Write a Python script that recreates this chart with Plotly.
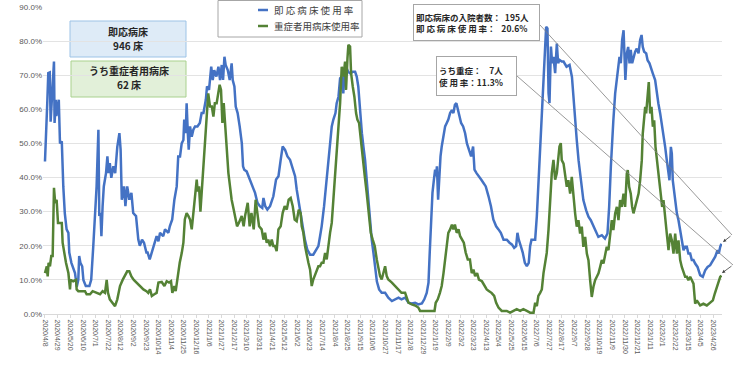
import pandas as pd
import plotly.graph_objects as go

BASE_DATE = "2020-04-08"

# 即応病床使用率 (%) : day offset from 2020/4/8, value
blue_days = [0, 1.5, 4, 5.5, 8, 9.4, 11.5, 14, 15, 16, 18, 19, 23, 25, 28, 30.5, 33, 36, 39, 40.5, 44, 50, 53, 55.5, 57, 59, 62, 64, 68, 74, 77, 80.5, 84, 86, 89, 90.5, 92.5, 94, 96, 98, 101.7, 104, 106, 108, 110.5, 114, 117, 120.5, 124, 126, 128, 131.7, 134, 137, 140.5, 144, 147, 151.7, 155.5, 158, 161.7, 165, 169,
             171, 174.5, 178, 180.6, 186, 189, 191.7, 197, 200, 205.6, 208, 212, 215.6, 219.5, 222, 225, 227.8, 230.6, 232, 234.5, 236, 238, 239.5, 241.7, 244.5, 247.2, 250, 254, 258, 261, 264, 268, 270, 273.3, 277, 279.5, 282, 285.6, 289, 291.7, 294.5, 296.7, 299, 301, 304.5, 307.8, 311, 312.8, 315.6, 317.8, 321, 324.4, 328, 330, 332, 336, 339, 343.3, 347, 350, 354, 358, 362,
             364, 367, 370.5, 375, 380.5, 385, 389, 392.7, 396, 400, 404, 408.3, 412.8, 416.7, 419.4, 422.2, 425, 429.4, 433, 437, 441.7, 447, 451.7, 455.5, 458.3, 461, 465, 468.3, 472, 475, 477.8, 480.5, 484, 486, 489, 491.7, 494.4, 497, 499.4, 501.6, 505, 508.3, 512.8, 516.7, 519.4, 522, 525, 528, 530.5, 533.3, 536, 539, 541.7, 544.4, 547.2,
             550, 553, 556.7, 561, 566.7, 572, 578, 583, 589, 594, 600, 605.6, 611, 616.7, 622, 628, 632, 636, 639, 641, 643, 645.6, 648, 650, 651.7, 653, 655, 656.7, 659, 661, 664, 666.7, 669.4, 672, 675, 678, 680.5, 683, 685.5, 687.8, 690, 693.3, 696.7, 700, 703, 706.7, 710, 713.3, 715.6, 719, 722, 726.7, 730.6, 734.4, 739,
             743, 747, 751.7, 755.6, 759.5, 764, 769.4, 774, 777.8, 781.7, 785, 787.2, 789.4, 792.8, 796, 799.5, 802.8, 806, 808.3, 810.6, 814, 816.7, 819.5, 822, 825, 827.8, 830.6, 833.3, 835, 837.2, 839, 840.6, 843, 845, 847.2, 850, 852.8, 855, 857.2,
             861, 864, 869, 874, 878, 880.5, 883, 886, 889, 891.6, 894.4, 897, 901.7, 905.5, 909.4, 914, 918.3, 922, 927.8, 933, 937.2, 940, 942.8, 945, 947, 950, 952.8, 955.5, 957.2, 959.4, 961.6, 964, 965.5, 967, 969.4, 971.7, 973.9, 976, 978.3, 980.5, 983.3, 986, 988.9, 991.6, 994, 996, 998.3, 1001.7, 1004, 1007.2, 1009.4, 1012.8, 1016.6, 1019.4, 1022, 1025, 1027.8, 1030.5, 1033.3, 1036, 1038.9, 1040.5, 1042.8, 1044.4, 1046, 1048.3, 1050.5, 1052.8, 1055.5, 1058.3, 1061, 1063.9, 1066.6, 1069.4, 1072, 1075, 1077.7, 1080.5, 1083.3, 1087.2, 1091.6, 1096, 1100, 1104, 1108.3, 1112.8, 1116.7, 1120.5, 1122.7, 1125, 1127]
blue_vals = [44.7, 50, 62.8, 70.6, 70.8, 56.4, 63.7, 74, 74, 56, 62.8, 58, 62.8, 50, 50.6, 37.4, 29.6, 24.8, 23.8, 18, 15, 12, 8, 10, 17, 15, 14, 10, 8.2, 8.2, 10, 20, 29.6, 37.4, 54, 28.7, 29.6, 22.8, 31.6, 37.4, 41.3, 46.2, 41.3, 44.2, 39.9, 43.3, 41.3, 49, 53, 48.2, 33.5, 37.4, 31.6, 37.4, 33.5, 35.5, 29.6, 28.7, 21.8, 20, 21.8, 20.9, 18,
             18, 16, 18, 20, 22.8, 21.3, 23.8, 22.8, 24.8, 23.8, 25.7, 27.7, 33.5, 37.4, 46.2, 46.2, 50, 51, 57, 53, 61.8, 53, 48.2, 55, 52, 54, 55, 55, 56, 58.9, 58.9, 62.8, 66.7, 65.7, 72.5, 68.6, 71.5, 69.6, 72.5, 68.6, 73, 68.6, 75.4, 73, 71.5, 68.6, 73.5, 68.6, 66.7, 60.8, 58.9, 55, 50, 43.3, 42.3, 41.8, 40.4, 38.4, 36.5, 35.5, 32.6, 31.6, 31.1,
             34, 31.6, 30.6, 31.6, 34.5, 39.4, 40.4, 45.2, 49.1, 48.1, 46.2, 45.2, 42.3, 40.4, 36.5, 33.5, 30.6, 25.7, 21.8, 18.9, 17.4, 17.4, 18.9, 19.9, 22.8, 25.7, 31.6, 37.4, 45.2, 50, 55, 57, 58.9, 61.8, 63.7, 69.1, 69.6, 64.7, 71.5, 72.5, 71, 70.6, 71, 71, 69.6, 66.7, 58.9, 53, 49.1, 45.2, 39.4, 32.6, 27.7, 21.8, 18,
             13, 9.5, 7.2, 6.2, 6.2, 4.8, 3.8, 4.3, 4.8, 4.3, 4.8, 3.3, 3.1, 3.3, 2.8, 3.1, 4.3, 6.2, 9.2, 17.9, 27.7, 35.5, 39.4, 42.3, 40.4, 43.3, 33.5, 41.3, 46.2, 49.1, 52, 55, 56, 57, 58.9, 59.8, 58.9, 61.3, 61.8, 59.8, 58.9, 56, 55, 53, 50, 48.1, 46.2, 49.1, 42.3, 41.3, 40.4, 39.4, 38.4, 37.4, 34.5,
             31.6, 27.7, 25.7, 24.8, 23.8, 21.8, 21.8, 20.9, 20.4, 19.4, 19.9, 23.8, 21.8, 19.9, 18, 15, 14, 15, 19.9, 21.8, 21.8, 21.8, 28.7, 37.4, 46.2, 56.9, 69.6, 77.4, 84.2, 83.7, 64.7, 61.8, 78.4, 73.5, 75.4, 70.6, 79.3, 73.5, 74.5,
             74, 74, 72.5, 73, 69.5, 62.7, 56.8, 51, 45.1, 41.2, 37.3, 33.4, 30.4, 28.5, 27.5, 25.6, 23.6, 22.6, 23.1, 22.1, 23.6, 31.4, 43.1, 52, 56.8, 64.7, 68.6, 72.5, 75.4, 73.5, 80.3, 83.2, 77.4, 68.6, 76.4, 78.3, 73.5, 77.4, 73.5, 75.4, 76.9, 77.8, 76.4, 80.3, 81.8, 78.3, 76.9, 76.4, 74.4, 73.5, 72.5, 70.5, 68.6, 64.7, 61.7, 58.8, 55.9, 52.9, 49, 45.1, 41.2, 39.2, 49, 47, 39.2, 35.3, 31.4, 29.5, 27.5, 24.6, 21.6, 18.7, 19.7, 19.7, 17.7, 17.7, 15.8, 15.8, 14.8, 13.8, 11.4, 10.9, 12.8, 13.8, 14.3, 15.8, 16.8, 18.7, 17.7, 19.7, 20.6]

# 重症者用病床使用率 (%)
green_days = [0, 3, 4.5, 6, 8.3, 10.5, 12.8, 14, 15, 17, 19.4, 21.7, 28, 29.4, 31.7, 35, 39, 41.7, 42.8, 47, 51.7, 52.8, 55.5, 66.7, 69.4, 75, 79.4, 86, 91.7, 96, 100, 102.8, 105, 108, 112.8, 116.7, 120.5, 125, 129.4, 133, 137, 140.5, 144, 148, 152.8, 158, 164, 169,
              172, 175, 178, 182.2, 186, 189, 194.5, 199, 202.8, 206.7, 210, 212.2, 215.6, 217.8, 221, 224.5, 228, 230.6, 233, 236, 239, 241.7, 244.5, 247.2, 250, 252.8, 254.4, 256.7, 259, 261.1, 264, 267, 269.4, 272, 275, 278, 280.6, 283, 286, 289, 291, 293.3, 295.6, 297.8, 300, 302.8, 305.6, 308.3, 311, 314.4, 317, 320, 323, 327.8, 331, 333.3, 337.8, 341, 344, 347.8, 351, 354.4, 356.7,
              361, 364, 366.7, 369.4, 372, 375, 377.8, 380.5, 383.3, 386, 388.9, 392.7, 396, 399.4, 402.8, 406, 409.4, 412.8, 416, 419.4, 422.8, 426, 427.8, 430.5, 433.3, 436, 438.9, 441.7, 444.4, 447, 450, 452.8, 455.5, 458.3, 461, 463.9, 466.7, 469.4, 472, 475, 477.8, 480.5, 483.3, 486, 489, 491.7, 494.4, 497.2, 500, 501.6, 504, 505.5, 508.3, 510, 512.8, 515.5, 518.3, 520.5, 523.3, 526, 529.4, 532.8, 536, 539.4, 542.8, 546, 549.4,
              552.8, 555.5, 558.3, 561, 566.7, 569.4, 572, 578, 583, 589, 594, 600, 602.8, 605.6, 611, 616.7, 622, 625, 644, 649, 651, 654.4, 658, 661, 664, 666.7, 669.4, 672, 675, 678, 680.5, 683, 686, 689, 691.7, 694.4, 697.8, 701, 704.4, 708, 711, 713.9, 716.7, 720, 723, 728, 732.2, 736, 740,
              744, 748.4, 751.7, 755.6, 761, 769.4, 775, 780.6, 786, 791.7, 797, 802.8, 808.3, 814, 816.7, 819.5, 822, 825, 827.8, 830.6, 833.3, 836, 839, 841.7, 844.4, 847.2, 850, 852.8, 855, 857.2, 859.4,
              861, 864, 866.6, 869.4, 872, 875, 877.7, 880.5, 883.3, 886, 888.8, 891.6, 894.4, 897, 900, 902.8, 905.5, 908.3, 911, 913.8, 916.6, 919.4, 922.2, 925, 927.7, 930.5, 933.3, 936, 938.8, 941.6, 944.4, 947, 950, 952.8, 955.5, 958.3, 961, 963.9, 966.6, 969.4, 971, 973.3, 976, 978.3, 980.5, 983.3, 986, 989, 991.6, 994.4, 996, 998.3, 1000, 1001.6, 1004, 1006, 1008.3, 1010.5, 1012.8, 1015, 1017.2, 1019.4, 1021.6, 1023.9, 1026, 1028.3, 1030.5, 1033.3, 1036, 1038.9, 1041.6, 1044.4, 1047.2, 1050, 1052.8, 1055.5, 1058.3, 1061, 1063.9, 1066.6, 1069.4, 1072, 1075, 1077.7, 1080.5, 1083.3, 1086, 1091.6, 1097, 1102.7, 1108.3, 1112.8, 1116, 1119.4, 1122.7, 1125, 1127]
green_vals = [12, 14, 11, 15, 14, 17, 17, 33.5, 37, 32.5, 33.5, 26.7, 26.7, 20.9, 18, 15, 12, 7.2, 10, 9.6, 10, 7.2, 6.7, 6.7, 5.8, 5.8, 6.7, 6.2, 5.8, 6.7, 6.2, 10, 6.2, 4.3, 3.3, 2.3, 4.3, 8.2, 10, 11, 12.5, 12.5, 11, 10, 9.2, 8.2, 7.2, 6.7,
              6.2, 7.2, 5.3, 5.8, 6.2, 9.2, 9.4, 8.2, 9.6, 9.2, 9.6, 6.2, 8.2, 6.7, 11, 15, 18, 20.9, 27.7, 29.6, 28.7, 27.7, 24.8, 29.6, 35.5, 39.4, 35.9, 37.4, 30, 35.5, 43.3, 51, 55, 64.7, 60.8, 60.8, 57.9, 61.8, 61.8, 65.7, 67.2, 65.7, 56, 61.8, 55, 47.2, 41.3, 37.4, 33.5, 30.6, 27.7, 25.7, 26.7, 28.7, 25.7, 28.7, 32.6, 25.7, 29.6, 24.8, 33.5, 29.6, 25.7,
              24.8, 21.8, 23.8, 20.9, 21.8, 19.9, 21.8, 19.9, 19.9, 18.4, 24.8, 25.7, 29.6, 31.6, 30.6, 33.5, 34, 31.6, 27.7, 27.2, 30.6, 29.6, 25.7, 23.8, 19.9, 17, 15, 13, 8.2, 10.1, 11.6, 13, 14, 14, 15, 15, 17.9, 16, 19.9, 23.8, 26.7, 33.5, 40.4, 49.1, 57, 61.8, 72.5, 69.6, 74, 65.7, 75, 78.9, 78.4, 70.6, 66.7, 63.7, 58.9, 57, 56, 51, 45.2, 40.4, 35.5, 28.7, 23.8, 21.8, 19.9,
              16, 14, 11.1, 10.1, 14, 11.1, 10.1, 9.2, 8.2, 7.2, 6.2, 6.2, 4.8, 3.3, 2.8, 2.5, 1.9, 0.9, 0.9, 0.9, 3.3, 4.3, 6.2, 8.2, 12, 16, 20.9, 23.8, 24.8, 26.2, 24.8, 26.2, 23.8, 24.8, 22.8, 21.8, 20.9, 18, 16, 16, 12, 13, 11.1, 12, 10.1, 9.6, 8.2, 7.2, 6.7,
              6.2, 5.3, 3.3, 1.9, 0.9, 0.9, 0.4, 0.9, 1.4, 0.9, 1.4, 0.9, 0.4, 0.4, 3.3, 2.3, 5.3, 6.2, 7.2, 12, 15, 17.9, 24.8, 33.5, 41.3, 45.2, 39.4, 41.3, 45.2, 49.1, 50.1,
              45.1, 44.1, 41.2, 37.3, 39.2, 35.3, 40.2, 33.4, 29.5, 25.6, 27.5, 23.6, 25.6, 19.7, 22.6, 17.7, 15.8, 9.9, 5, 8, 9.9, 10.9, 11.9, 13.8, 15.8, 14.8, 17.7, 19.7, 18.7, 22.6, 27.5, 24.6, 29.5, 31.4, 27.5, 33.4, 31.4, 35.3, 31.4, 41.2, 42.2, 37.3, 35.3, 31.4, 29.5, 31.4, 33.4, 35.3, 39.2, 45.1, 52.9, 56.8, 60.7, 58.8, 63.7, 68, 58.8, 60.7, 54.9, 56.8, 49, 45.1, 41.2, 37.3, 33.4, 31.4, 33.4, 27.5, 23.6, 18.7, 23.6, 21.6, 17.7, 23.6, 17.7, 21.6, 15.8, 13.8, 11.9, 10.9, 10.9, 9.9, 10.9, 9.9, 8.9, 3, 4, 2.5, 3, 2.5, 3.5, 4, 6, 8, 9.9, 10.9, 11.3]

series_names = ["即 応 病 床 使 用 率", "重症者用病床使用率"]
series_colors = ["#4472C4", "#548235"]

bed_box_lines = ["即応病床", "946 床"]
severe_box_lines = ["うち重症者用病床", "62 床"]
callout_main = ["即応病床の入院者数：  195人", "即 応 病 床 使 用 率：   20.6%"]
callout_severe = ["うち重症：    7人", "使 用 率：11.3%"]

base = pd.Timestamp(BASE_DATE)
def to_dates(days):
    return base + pd.to_timedelta(days, unit="D")

tick_dates = pd.date_range(BASE_DATE, "2023-04-26", freq="21D")
tick_labels = [f"{d.year}/{d.month}/{d.day}" for d in tick_dates]

FONT = "Noto Sans CJK JP, Noto Sans, sans-serif"

fig = go.Figure()
fig.add_trace(go.Scatter(x=to_dates(blue_days), y=blue_vals, mode="lines", name=series_names[0],
                         line=dict(color=series_colors[0], width=2.5), showlegend=False))
fig.add_trace(go.Scatter(x=to_dates(green_days), y=green_vals, mode="lines", name=series_names[1],
                         line=dict(color=series_colors[1], width=2.5), showlegend=False))

# plot area in pixels: x 43..722, y 7..314
L, R, T, B = 43, 722, 7, 314
W, H = R - L, B - T
def px(x):
    return (x - L) / W
def py(y):
    return (B - y) / H

fig.update_layout(
    width=740, height=366,
    margin=dict(l=L, r=740 - R, t=T, b=366 - B, autoexpand=False),
    paper_bgcolor="white", plot_bgcolor="white",
    font=dict(family=FONT, color="#404040"),
    showlegend=False,
    xaxis=dict(
        type="date",
        range=[to_dates([-3.3])[0], to_dates([1128])[0]],
        tickmode="array", tickvals=tick_dates, ticktext=tick_labels,
        tickangle=90, tickfont=dict(size=7, color="#595959", family="Liberation Sans, sans-serif"),
        showgrid=False, showline=True, linecolor="#D9D9D9", linewidth=1,
        ticks="outside", ticklen=3, tickcolor="#D9D9D9", zeroline=False, automargin=False,
    ),
    yaxis=dict(
        range=[0, 90], dtick=10, tickformat=".1f", ticksuffix="%",
        tickfont=dict(size=8, color="#595959", family="Liberation Sans, sans-serif"),
        showgrid=True, gridcolor="#E3E3E3", gridwidth=1, zeroline=False,
        ticks="", showline=False, automargin=False,
    ),
)

shapes = []
# info boxes
shapes.append(dict(type="rect", xref="paper", yref="paper", x0=px(70), x1=px(186), y0=py(57), y1=py(21),
                   fillcolor="#DEEBF7", line=dict(color="#9DC3E6", width=1), layer="below"))
shapes.append(dict(type="rect", xref="paper", yref="paper", x0=px(71), x1=px(186), y0=py(97), y1=py(61),
                   fillcolor="#E2F0D9", line=dict(color="#A9D18E", width=1), layer="below"))
# legend box with line samples
shapes.append(dict(type="rect", xref="paper", yref="paper", x0=px(218), x1=px(362), y0=py(37), y1=py(0.5),
                   fillcolor="white", line=dict(color="#A6A6A6", width=1), layer="above"))
shapes.append(dict(type="line", xref="paper", yref="paper", x0=px(258), x1=px(268), y0=py(10), y1=py(10),
                   line=dict(color=series_colors[0], width=2.5), layer="above"))
shapes.append(dict(type="line", xref="paper", yref="paper", x0=px(258), x1=px(268), y0=py(26), y1=py(26),
                   line=dict(color=series_colors[1], width=2.5), layer="above"))
# leader lines
shapes.append(dict(type="line", xref="paper", yref="paper", x0=px(540), y0=py(25), x1=px(732), y1=py(235),
                   line=dict(color="#7F7F7F", width=0.8)))
shapes.append(dict(type="line", xref="paper", yref="paper", x0=px(517), y0=py(76), x1=px(733), y1=py(265),
                   line=dict(color="#7F7F7F", width=0.8)))
fig.update_layout(shapes=shapes)

anns = []
def box_text(x, y, text, size):
    anns.append(dict(xref="paper", yref="paper", x=px(x), y=py(y), xanchor="center", yanchor="middle",
                     text="<b>" + text + "</b>", showarrow=False,
                     font=dict(size=size, color="#262626", family=FONT)))
box_text(128, 31, bed_box_lines[0], 10)
box_text(128, 45, bed_box_lines[1], 10)
box_text(128.5, 70, severe_box_lines[0], 10)
box_text(128.5, 84, severe_box_lines[1], 10)

# legend texts
for i, yy in enumerate([10, 26]):
    anns.append(dict(xref="paper", yref="paper", x=px(272), y=py(yy), xanchor="left", yanchor="middle",
                     text=series_names[i], showarrow=False,
                     font=dict(size=9.5, color="#404040", family=FONT)))

anns.append(dict(xref="paper", yref="paper", x=px(476.5), y=py(22.5), xanchor="center", yanchor="middle",
                 text="<b>" + "</b><br><b>".join(callout_main) + "</b>", showarrow=False, align="left",
                 width=121, height=31, borderpad=2, bordercolor="#A6A6A6", borderwidth=1, bgcolor="white",
                 font=dict(size=8.5, color="#262626", family=FONT)))
anns.append(dict(xref="paper", yref="paper", x=px(476.5), y=py(76), xanchor="center", yanchor="middle",
                 text="<b>" + "</b><br><b>".join(callout_severe) + "</b>", showarrow=False, align="left",
                 width=75, height=34, borderpad=2, bordercolor="#A6A6A6", borderwidth=1, bgcolor="white",
                 font=dict(size=8.5, color="#262626", family=FONT)))
# arrowheads at series ends
anns.append(dict(xref="paper", yref="paper", x=px(723), y=py(242), ax=9, ay=-7, text="", showarrow=True,
                 arrowhead=2, arrowsize=0.8, arrowwidth=0.8, arrowcolor="#404040"))
anns.append(dict(xref="paper", yref="paper", x=px(722), y=py(273), ax=11, ay=-8, text="", showarrow=True,
                 arrowhead=2, arrowsize=0.8, arrowwidth=0.8, arrowcolor="#404040"))
fig.update_layout(annotations=anns)

fig.write_html("out.html", config={"displayModeBar": False},
               post_script="document.body.style.margin='0';document.body.style.padding='0';")
